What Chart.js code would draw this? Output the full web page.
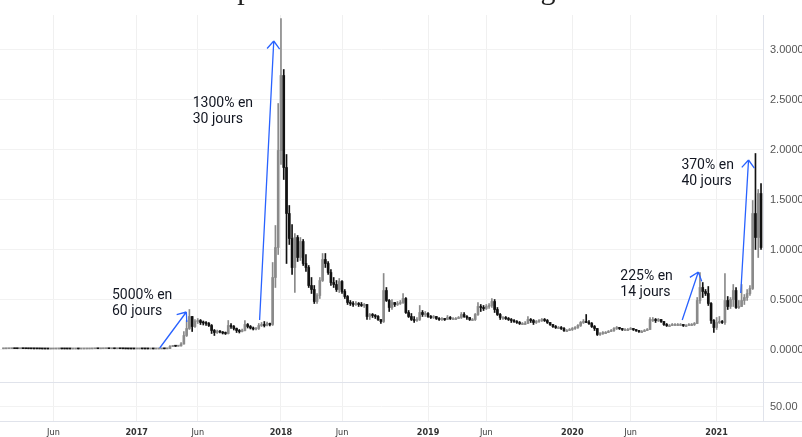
<!DOCTYPE html>
<html>
<head>
<meta charset="utf-8">
<title>XRP hebdomadaire</title>
<script src="https://cdn.jsdelivr.net/npm/chart.js@4"></script>
<style>
  html, body { margin: 0; padding: 0; background: #fff; }
  canvas { display: block; }
</style>
</head>
<body>
<canvas id="chart" width="802" height="437"></canvas>
<script>
// weekly candles, the first week starts on Monday 2016-02-01
var startDate = '2016-02-01';
var firstOpen = 0.0075;

var closes = [
  // 2016
  0.0079, 0.0081, 0.0085, 0.0088, 0.0084, 0.0083, 0.0086, 0.0085, 0.0080, 0.0078, 0.0076, 0.0074, 0.0071,
  0.0069, 0.0063, 0.0060, 0.0058, 0.0060, 0.0062, 0.0066, 0.0071, 0.0065, 0.0064, 0.0062, 0.0061, 0.0062,
  0.0063, 0.0062, 0.0064, 0.0065, 0.0067, 0.0069, 0.0074, 0.0078, 0.0077, 0.0081, 0.0085, 0.0087, 0.0080,
  0.0082, 0.0079, 0.0081, 0.0077, 0.0076, 0.0070, 0.0066, 0.0065, 0.0064,
  // 2017
  0.0066, 0.0068, 0.0067, 0.0065, 0.0063, 0.0064, 0.0062, 0.0064, 0.0066, 0.0073, 0.0072, 0.0095,
  0.030, 0.036, 0.033, 0.036, 0.055, 0.140, 0.210, 0.330, 0.230, 0.280, 0.290, 0.270, 0.265, 0.260,
  0.240, 0.190, 0.170, 0.180, 0.175, 0.165, 0.160, 0.240, 0.230, 0.210, 0.190, 0.180, 0.190, 0.250,
  0.230, 0.215, 0.205, 0.210, 0.240, 0.250, 0.240, 0.260, 0.250, 0.72, 1.02, 1.99,
  // 2018
  2.74, 1.82, 1.36, 1.11, 0.82, 1.12, 0.92, 1.08, 0.86, 0.82, 0.64, 0.60, 0.48, 0.54, 0.69, 0.90, 0.86,
  0.77, 0.67, 0.65, 0.60, 0.68, 0.58, 0.53, 0.47, 0.46, 0.45, 0.46, 0.45, 0.44, 0.45, 0.33, 0.35, 0.34,
  0.33, 0.30, 0.28, 0.59, 0.49, 0.42, 0.47, 0.45, 0.46, 0.47, 0.51, 0.37, 0.33, 0.30, 0.29, 0.30, 0.37, 0.35,
  // 2019
  0.36, 0.33, 0.32, 0.33, 0.31, 0.30, 0.31, 0.30, 0.32, 0.31, 0.31, 0.31, 0.32, 0.35, 0.33, 0.32, 0.30,
  0.30, 0.35, 0.43, 0.42, 0.41, 0.43, 0.44, 0.48, 0.40, 0.35, 0.32, 0.32, 0.31, 0.30, 0.29, 0.28, 0.27,
  0.26, 0.26, 0.26, 0.30, 0.29, 0.27, 0.28, 0.29, 0.30, 0.29, 0.27, 0.25, 0.23, 0.22, 0.22, 0.21, 0.19, 0.19, 0.20,
  // 2020
  0.21, 0.22, 0.24, 0.27, 0.28, 0.27, 0.26, 0.23, 0.21, 0.15, 0.16, 0.17, 0.17, 0.18, 0.19, 0.21, 0.22,
  0.21, 0.20, 0.20, 0.20, 0.21, 0.20, 0.19, 0.18, 0.18, 0.19, 0.20, 0.30, 0.30, 0.29, 0.30, 0.28, 0.25,
  0.24, 0.24, 0.25, 0.25, 0.25, 0.25, 0.24, 0.24, 0.25, 0.25, 0.26, 0.49, 0.62, 0.58, 0.56, 0.46, 0.29, 0.22,
  // 2021
  0.27, 0.28, 0.27, 0.49, 0.43, 0.50, 0.59, 0.42, 0.43, 0.49, 0.52, 0.56, 0.61, 1.36, 1.12, 1.56, 1.02
];

var highs = [
  0.0086, 0.0088, 0.0092, 0.0095, 0.0091, 0.0089, 0.0092, 0.0090, 0.0087, 0.0083, 0.0081, 0.0079, 0.0076,
  0.0074, 0.0070, 0.0066, 0.0063, 0.0064, 0.0067, 0.0071, 0.0078, 0.0074, 0.0069, 0.0067, 0.0065, 0.0066,
  0.0067, 0.0066, 0.0068, 0.0069, 0.0071, 0.0073, 0.0079, 0.0083, 0.0081, 0.0086, 0.0091, 0.0094, 0.0089,
  0.0087, 0.0084, 0.0086, 0.0082, 0.0080, 0.0077, 0.0072, 0.0069, 0.0068,
  0.0070, 0.0072, 0.0071, 0.0069, 0.0067, 0.0068, 0.0066, 0.0068, 0.0070, 0.0080, 0.0078, 0.0110,
  0.038, 0.042, 0.037, 0.040, 0.070, 0.180, 0.290, 0.400, 0.330, 0.300, 0.310, 0.300, 0.285, 0.280,
  0.270, 0.250, 0.200, 0.195, 0.190, 0.180, 0.175, 0.290, 0.260, 0.240, 0.215, 0.200, 0.205, 0.290,
  0.260, 0.240, 0.225, 0.220, 0.260, 0.270, 0.280, 0.275, 0.265, 0.87, 1.24, 2.46,
  3.31, 2.80, 1.95, 1.44, 1.25, 1.16, 1.14, 1.12, 1.10, 0.95, 0.84, 0.72, 0.64, 0.56, 0.72, 0.96, 0.96,
  0.88, 0.80, 0.72, 0.69, 0.71, 0.69, 0.60, 0.54, 0.49, 0.48, 0.48, 0.47, 0.47, 0.46, 0.45, 0.36, 0.36,
  0.35, 0.34, 0.30, 0.76, 0.62, 0.50, 0.50, 0.47, 0.48, 0.49, 0.56, 0.52, 0.39, 0.36, 0.33, 0.32, 0.44, 0.39,
  0.38, 0.37, 0.34, 0.34, 0.33, 0.32, 0.32, 0.31, 0.34, 0.33, 0.32, 0.32, 0.33, 0.37, 0.37, 0.34, 0.32,
  0.31, 0.36, 0.47, 0.45, 0.44, 0.45, 0.46, 0.51, 0.50, 0.42, 0.36, 0.33, 0.33, 0.32, 0.31, 0.30, 0.29,
  0.28, 0.27, 0.28, 0.33, 0.31, 0.30, 0.29, 0.30, 0.31, 0.31, 0.30, 0.27, 0.25, 0.24, 0.23, 0.23, 0.22, 0.20, 0.21,
  0.22, 0.23, 0.25, 0.28, 0.30, 0.35, 0.29, 0.27, 0.24, 0.21, 0.17, 0.18, 0.18, 0.19, 0.20, 0.22, 0.23,
  0.22, 0.21, 0.21, 0.21, 0.22, 0.21, 0.20, 0.19, 0.19, 0.20, 0.21, 0.32, 0.32, 0.31, 0.31, 0.30, 0.28,
  0.26, 0.25, 0.26, 0.26, 0.26, 0.26, 0.25, 0.25, 0.26, 0.26, 0.27, 0.52, 0.77, 0.67, 0.60, 0.63, 0.47, 0.30,
  0.32, 0.33, 0.29, 0.76, 0.53, 0.52, 0.65, 0.62, 0.49, 0.65, 0.55, 0.60, 0.64, 1.49, 1.96, 1.60, 1.66
];

var lows = [
  0.0072, 0.0075, 0.0078, 0.0082, 0.0080, 0.0078, 0.0080, 0.0081, 0.0077, 0.0075, 0.0072, 0.0070, 0.0068,
  0.0065, 0.0058, 0.0055, 0.0053, 0.0056, 0.0058, 0.0061, 0.0064, 0.0062, 0.0060, 0.0059, 0.0058, 0.0059,
  0.0060, 0.0059, 0.0060, 0.0062, 0.0063, 0.0065, 0.0068, 0.0073, 0.0073, 0.0075, 0.0079, 0.0082, 0.0077,
  0.0077, 0.0075, 0.0076, 0.0073, 0.0072, 0.0064, 0.0062, 0.0060, 0.0060,
  0.0062, 0.0064, 0.0063, 0.0061, 0.0059, 0.0060, 0.0059, 0.0060, 0.0062, 0.0065, 0.0068, 0.0069,
  0.0093, 0.029, 0.030, 0.032, 0.034, 0.054, 0.130, 0.200, 0.180, 0.220, 0.260, 0.250, 0.245, 0.240,
  0.230, 0.160, 0.140, 0.160, 0.165, 0.155, 0.150, 0.155, 0.210, 0.195, 0.170, 0.165, 0.175, 0.185,
  0.215, 0.205, 0.195, 0.195, 0.200, 0.230, 0.225, 0.235, 0.235, 0.24, 0.62, 0.95,
  1.85, 1.70, 0.86, 1.05, 0.75, 0.57, 0.88, 0.89, 0.84, 0.78, 0.62, 0.56, 0.46, 0.46, 0.51, 0.68, 0.82,
  0.75, 0.64, 0.62, 0.58, 0.57, 0.56, 0.51, 0.45, 0.44, 0.43, 0.44, 0.43, 0.43, 0.42, 0.30, 0.30, 0.32,
  0.31, 0.29, 0.26, 0.27, 0.48, 0.38, 0.40, 0.43, 0.44, 0.45, 0.46, 0.36, 0.32, 0.29, 0.27, 0.28, 0.29, 0.33,
  0.33, 0.32, 0.31, 0.31, 0.30, 0.29, 0.29, 0.29, 0.30, 0.30, 0.30, 0.30, 0.31, 0.31, 0.32, 0.30, 0.29,
  0.29, 0.29, 0.34, 0.38, 0.39, 0.40, 0.41, 0.42, 0.37, 0.34, 0.30, 0.30, 0.30, 0.29, 0.27, 0.27, 0.26,
  0.25, 0.25, 0.25, 0.26, 0.27, 0.25, 0.26, 0.27, 0.28, 0.28, 0.26, 0.24, 0.22, 0.21, 0.21, 0.20, 0.18, 0.18, 0.19,
  0.19, 0.20, 0.21, 0.23, 0.26, 0.27, 0.25, 0.22, 0.19, 0.14, 0.14, 0.15, 0.16, 0.17, 0.18, 0.18, 0.20,
  0.20, 0.19, 0.19, 0.19, 0.20, 0.19, 0.18, 0.17, 0.17, 0.18, 0.19, 0.20, 0.28, 0.27, 0.28, 0.27, 0.24,
  0.23, 0.23, 0.24, 0.24, 0.24, 0.24, 0.23, 0.23, 0.24, 0.24, 0.24, 0.26, 0.46, 0.52, 0.54, 0.44, 0.26, 0.17,
  0.20, 0.26, 0.26, 0.25, 0.40, 0.41, 0.43, 0.41, 0.41, 0.43, 0.45, 0.49, 0.54, 0.60, 1.00, 0.92, 1.00
];

// time axis: first weekly bar of each labelled month
var tickDates = ['2016-06-06', '2017-01-02', '2017-06-05', '2018-01-01', '2018-06-04',
                 '2019-01-07', '2019-06-03', '2020-01-06', '2020-06-01', '2021-01-04'];
var tickLabels = ['Jun', '2017', 'Jun', '2018', 'Jun', '2019', 'Jun', '2020', 'Jun', '2021'];
var priceTicks = [0, 0.5, 1, 1.5, 2, 2.5, 3];
var lowerTicks = [50];

// drawings on the chart, in [week number, price]
var arrows = [
  { from: [56.3, 0.015], to: [65.9, 0.375] },
  { from: [92.3, 0.295], to: [97.4, 3.085] },
  { from: [244.6, 0.295], to: [250.4, 0.775] },
  { from: [265.7, 0.565], to: [268.5, 1.895] }
];
var notes = [
  { lines: ['5000% en', '60 jours'], at: [39.1, 0.545] },
  { lines: ['1300% en', '30 jours'], at: [68.2, 2.465] },
  { lines: ['225% en', '14 jours'], at: [222.3, 0.735] },
  { lines: ['370% en', '40 jours'], at: [244.3, 1.845] }
];
var heading = 'Hausses rapides au fil des ans et longues consolidations';

var DAY = 86400000;
function dayOf(s) { return (Date.parse(s) - Date.parse(startDate)) / DAY; }
var tickDays = tickDates.map(dayOf);

var upColor = '#8a8a8a';
var downColor = '#111111';
var bodies = [], wicks = [], colors = [];
closes.forEach(function(c, i) {
  var o = i === 0 ? firstOpen : closes[i - 1];
  bodies.push({ x: i * 7, y: [o, c] });
  wicks.push({ x: i * 7, y: [lows[i], highs[i]] });
  colors.push(c >= o ? upColor : downColor);
});

var drawings = {
  id: 'drawings',
  afterDatasetsDraw: function(chart) {
    var ctx = chart.ctx, xs = chart.scales.x, ys = chart.scales.y;
    ctx.save();
    ctx.strokeStyle = '#2962ff';
    ctx.lineWidth = 1.3;
    arrows.forEach(function(a) {
      var x1 = xs.getPixelForValue(a.from[0] * 7), y1 = ys.getPixelForValue(a.from[1]);
      var x2 = xs.getPixelForValue(a.to[0] * 7), y2 = ys.getPixelForValue(a.to[1]);
      var ang = Math.atan2(y2 - y1, x2 - x1);
      ctx.beginPath();
      ctx.moveTo(x1, y1);
      ctx.lineTo(x2, y2);
      [-0.68, 0.68].forEach(function(d) {
        ctx.moveTo(x2, y2);
        ctx.lineTo(x2 - 10 * Math.cos(ang + d), y2 - 10 * Math.sin(ang + d));
      });
      ctx.stroke();
    });
    ctx.fillStyle = '#131722';
    ctx.font = '14px Roboto';
    ctx.textBaseline = 'middle';
    ctx.textAlign = 'left';
    notes.forEach(function(n) {
      var x = xs.getPixelForValue(n.at[0] * 7), y = ys.getPixelForValue(n.at[1]);
      n.lines.forEach(function(t, i) { ctx.fillText(t, x, y + 16 * i); });
    });
    ctx.restore();
  },
  afterDraw: function(chart) {
    var ctx = chart.ctx, area = chart.chartArea, low = chart.scales.y2;
    ctx.save();
    // pane separators across the whole width
    ctx.strokeStyle = '#e0e3eb';
    ctx.lineWidth = 1;
    ctx.beginPath();
    ctx.moveTo(0, Math.round(low.top) + 0.5);
    ctx.lineTo(chart.width, Math.round(low.top) + 0.5);
    ctx.moveTo(0, Math.round(area.bottom) + 0.5);
    ctx.lineTo(chart.width, Math.round(area.bottom) + 0.5);
    ctx.stroke();
    // title, cut by the top edge as in the source picture
    ctx.fillStyle = '#222';
    ctx.font = '30px "Liberation Serif"';
    ctx.textBaseline = 'alphabetic';
    ctx.textAlign = 'left';
    ctx.fillText(heading, 108, -1);
    ctx.restore();
  }
};

new Chart(document.getElementById('chart'), {
  type: 'bar',
  data: {
    datasets: [
      { label: 'corps', data: bodies, backgroundColor: colors, barThickness: 2, minBarLength: 1,
        grouped: false, order: 1, yAxisID: 'y' },
      { label: 'mèches', data: wicks, backgroundColor: colors, barThickness: 1,
        grouped: false, order: 2, yAxisID: 'y' }
    ]
  },
  options: {
    responsive: false,
    animation: false,
    devicePixelRatio: 1,
    layout: { padding: { top: 15, left: 0, right: 0, bottom: 0 } },
    plugins: { legend: { display: false }, tooltip: { enabled: false } },
    scales: {
      x: {
        type: 'linear',
        min: -8.8,
        max: 1916,
        offset: false,
        afterBuildTicks: function(s) { s.ticks = tickDays.map(function(v) { return { value: v }; }); },
        afterFit: function(s) { s.height = 16; },
        grid: { color: '#f0f0f0', drawTicks: false, offset: false },
        border: { color: '#e0e3eb' },
        ticks: {
          autoSkip: false,
          maxRotation: 0,
          padding: 6,
          color: '#333',
          font: function(c) {
            return { family: '"DejaVu Sans Condensed", "Liberation Sans Narrow", sans-serif', size: 9,
                     weight: /^\d/.test(tickLabels[c.index] || '') ? 'bold' : 'normal' };
          },
          callback: function(v, i) { return tickLabels[i]; }
        }
      },
      y: {
        position: 'right',
        stack: 'panes',
        stackWeight: 367,
        min: -0.325,
        max: 3.345,
        afterBuildTicks: function(s) { s.ticks = priceTicks.map(function(v) { return { value: v }; }); },
        afterFit: function(s) { s.width = 39; },
        grid: { color: '#f2f2f2', drawTicks: false },
        border: { color: '#e0e3eb' },
        ticks: {
          padding: 7,
          color: '#555',
          font: { family: '"Liberation Sans", sans-serif', size: 11 },
          callback: function(v) { return v.toFixed(5); }
        }
      },
      y2: {
        position: 'right',
        stack: 'panes',
        stackWeight: 39,
        min: 30,
        max: 85,
        afterBuildTicks: function(s) { s.ticks = lowerTicks.map(function(v) { return { value: v }; }); },
        afterFit: function(s) { s.width = 39; },
        grid: { color: '#f2f2f2', drawTicks: false },
        border: { color: '#e0e3eb' },
        ticks: {
          padding: 7,
          color: '#555',
          font: { family: '"Liberation Sans", sans-serif', size: 11 },
          callback: function(v) { return v.toFixed(2); }
        }
      }
    }
  },
  plugins: [drawings]
});
</script>
</body>
</html>
